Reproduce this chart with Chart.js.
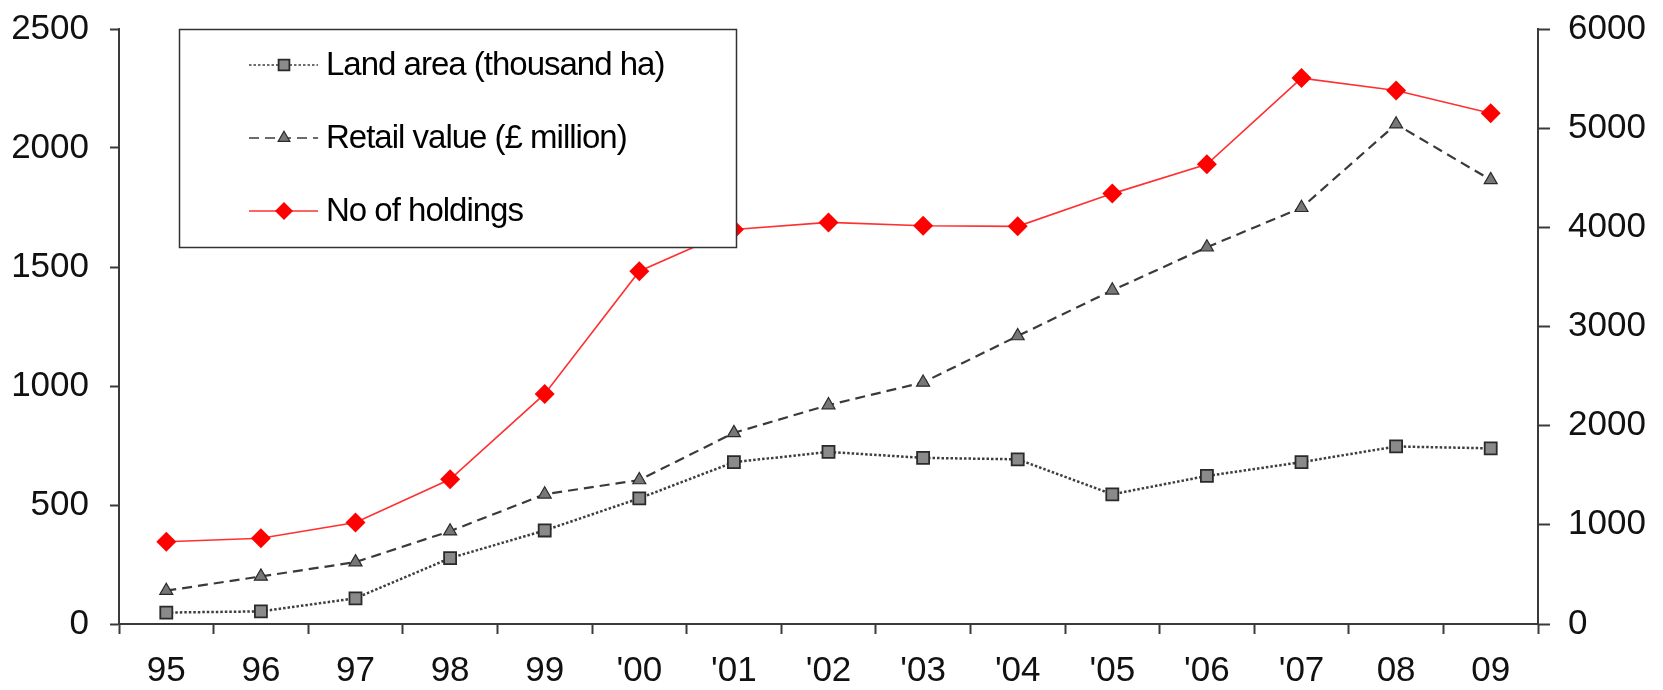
<!DOCTYPE html>
<html>
<head>
<meta charset="utf-8">
<title>Organic farming: land, retail value and holdings</title>
<script src="https://cdn.jsdelivr.net/npm/chart.js@4/dist/chart.umd.min.js"></script>
<style>
  html, body { margin: 0; padding: 0; background: #ffffff; }
  #wrap { position: relative; width: 1663px; height: 690px; }
</style>
</head>
<body>
<div id="wrap"><canvas id="chart"></canvas></div>
<script>
// Years on the category axis
const years = ['95', '96', '97', '98', '99', "'00", "'01", "'02", "'03", "'04", "'05", "'06", "'07", '08', '09'];

// Left axis series
const landArea = [48, 53, 108, 277, 393, 528, 680, 723, 698, 692, 545, 622, 680, 746, 738];
const retailValue = [140, 200, 260, 390, 545, 605, 803, 920, 1015, 1210, 1402, 1583, 1749, 2100, 1866];

// Right axis series
const holdings = [830, 865, 1024, 1459, 2320, 3558, 3978, 4050, 4016, 4010, 4340, 4635, 5505, 5380, 5150];

// Series names
const seriesNames = ['Land area (thousand ha)', 'Retail value (\u00a3 million)', 'No of holdings'];

// Axis ranges
const leftMax = 2500, leftStep = 500;
const rightMax = 6000, rightStep = 1000;

const FONT = "'Liberation Sans', Arial, Helvetica, sans-serif";
const AXIS_COLOR = '#3a3a3a';
const TICK_SIZE = 35;

Chart.defaults.font.family = FONT;
Chart.defaults.color = '#111111';

// Plain integers, no thousands separator
const plain = (v) => String(v);

// Value axes: fixed width, and no extra room reserved for the end labels
function fitValueAxis(width) {
  return (scale) => {
    scale.width = width;
    scale.paddingTop = 0;
    scale.paddingBottom = 0;
  };
}

// Draws one marker in the same geometry Chart.js uses for its point styles
function marker(ctx, style, x, y, r, fill, stroke, lw) {
  ctx.save();
  ctx.setLineDash([]);
  ctx.beginPath();
  if (style === 'rect') {
    const s = Math.SQRT1_2 * r;
    ctx.rect(x - s, y - s, 2 * s, 2 * s);
  } else if (style === 'triangle') {
    ctx.moveTo(x, y - r);
    ctx.lineTo(x + r * Math.cos(Math.PI / 6), y + r * 0.5);
    ctx.lineTo(x - r * Math.cos(Math.PI / 6), y + r * 0.5);
    ctx.closePath();
  } else {
    ctx.moveTo(x, y - r);
    ctx.lineTo(x + r, y);
    ctx.lineTo(x, y + r);
    ctx.lineTo(x - r, y);
    ctx.closePath();
  }
  ctx.fillStyle = fill;
  ctx.fill();
  if (lw > 0) {
    ctx.lineWidth = lw;
    ctx.strokeStyle = stroke;
    ctx.stroke();
  }
  ctx.restore();
}

// Boxed legend with line samples and markers, drawn over the plot
const boxedLegend = {
  id: 'boxedLegend',
  afterDraw(chart) {
    const ctx = chart.ctx;
    const box = { x: 179.5, y: 29.5, w: 557, h: 218 };
    ctx.save();
    ctx.fillStyle = '#ffffff';
    ctx.fillRect(box.x, box.y, box.w, box.h);
    ctx.lineWidth = 1.5;
    ctx.strokeStyle = '#333333';
    ctx.strokeRect(box.x, box.y, box.w, box.h);

    const rows = [65, 138, 211];
    chart.data.datasets.forEach((ds, i) => {
      const y = rows[i];
      ctx.save();
      ctx.beginPath();
      ctx.setLineDash(ds.borderDash || []);
      ctx.lineWidth = Math.min(ds.borderWidth, 1.6);
      ctx.strokeStyle = ds.borderColor;
      ctx.moveTo(249, y);
      ctx.lineTo(318, y);
      ctx.stroke();
      ctx.restore();
      marker(ctx, ds.pointStyle, 284, y, ds.pointRadius * 0.9, ds.pointBackgroundColor,
             ds.pointBorderColor, ds.pointBorderWidth);
      ctx.save();
      ctx.fillStyle = '#000000';
      ctx.font = '33px ' + FONT;
      if ('letterSpacing' in ctx) ctx.letterSpacing = '-1px';
      ctx.textBaseline = 'middle';
      ctx.textAlign = 'left';
      ctx.fillText(ds.label, 326, y + 1);
      ctx.restore();
    });
    ctx.restore();
  }
};

new Chart(document.getElementById('chart'), {
  type: 'line',
  data: {
    labels: years,
    datasets: [
      {
        label: seriesNames[0],
        data: landArea,
        yAxisID: 'y',
        borderColor: '#3e3e3e',
        borderWidth: 2.5,
        borderDash: [2.5, 2],
        pointStyle: 'rect',
        pointRadius: 8.5,
        pointBackgroundColor: '#8a8a8a',
        pointBorderColor: '#2a2a2a',
        pointBorderWidth: 1.8,
        tension: 0
      },
      {
        label: seriesNames[1],
        data: retailValue,
        yAxisID: 'y',
        borderColor: '#3a3a3a',
        borderWidth: 2.2,
        borderDash: [10, 6],
        pointStyle: 'triangle',
        pointRadius: 7.5,
        pointBackgroundColor: '#777777',
        pointBorderColor: '#2a2a2a',
        pointBorderWidth: 1.2,
        tension: 0
      },
      {
        label: seriesNames[2],
        data: holdings,
        yAxisID: 'y1',
        borderColor: '#ff3030',
        borderWidth: 1.6,
        pointStyle: 'rectRot',
        pointRadius: 10,
        pointBackgroundColor: '#ff0000',
        pointBorderColor: '#ff0000',
        pointBorderWidth: 0,
        tension: 0
      }
    ]
  },
  options: {
    responsive: true,
    maintainAspectRatio: false,
    animation: false,
    events: [],
    layout: { padding: { top: 29, left: 0, right: 0, bottom: 0 } },
    plugins: {
      legend: { display: false },
      tooltip: { enabled: false },
      title: { display: false }
    },
    scales: {
      x: {
        type: 'category',
        offset: true,
        grid: {
          display: true,
          drawOnChartArea: false,
          drawTicks: true,
          tickLength: 10,
          tickWidth: 2,
          tickColor: AXIS_COLOR,
          offset: true
        },
        border: { display: true, color: AXIS_COLOR, width: 2 },
        ticks: {
          font: { size: TICK_SIZE },
          color: '#111111',
          padding: 16,
          maxRotation: 0,
          autoSkip: false
        },
        afterFit(scale) { scale.height = 66; }
      },
      y: {
        position: 'left',
        min: 0,
        max: leftMax,
        grid: {
          drawOnChartArea: false,
          drawTicks: true,
          tickLength: 9,
          tickWidth: 2,
          tickColor: AXIS_COLOR
        },
        border: { display: true, color: AXIS_COLOR, width: 2 },
        ticks: {
          stepSize: leftStep,
          font: { size: TICK_SIZE },
          color: '#111111',
          padding: 21,
          callback: plain
        },
        afterFit: fitValueAxis(119)
      },
      y1: {
        position: 'right',
        min: 0,
        max: rightMax,
        grid: {
          drawOnChartArea: false,
          drawTicks: true,
          tickLength: 12,
          tickWidth: 2,
          tickColor: AXIS_COLOR
        },
        border: { display: true, color: AXIS_COLOR, width: 2 },
        ticks: {
          stepSize: rightStep,
          font: { size: TICK_SIZE },
          color: '#111111',
          padding: 18,
          callback: plain
        },
        afterFit: fitValueAxis(125)
      }
    }
  },
  plugins: [boxedLegend]
});
</script>
</body>
</html>
